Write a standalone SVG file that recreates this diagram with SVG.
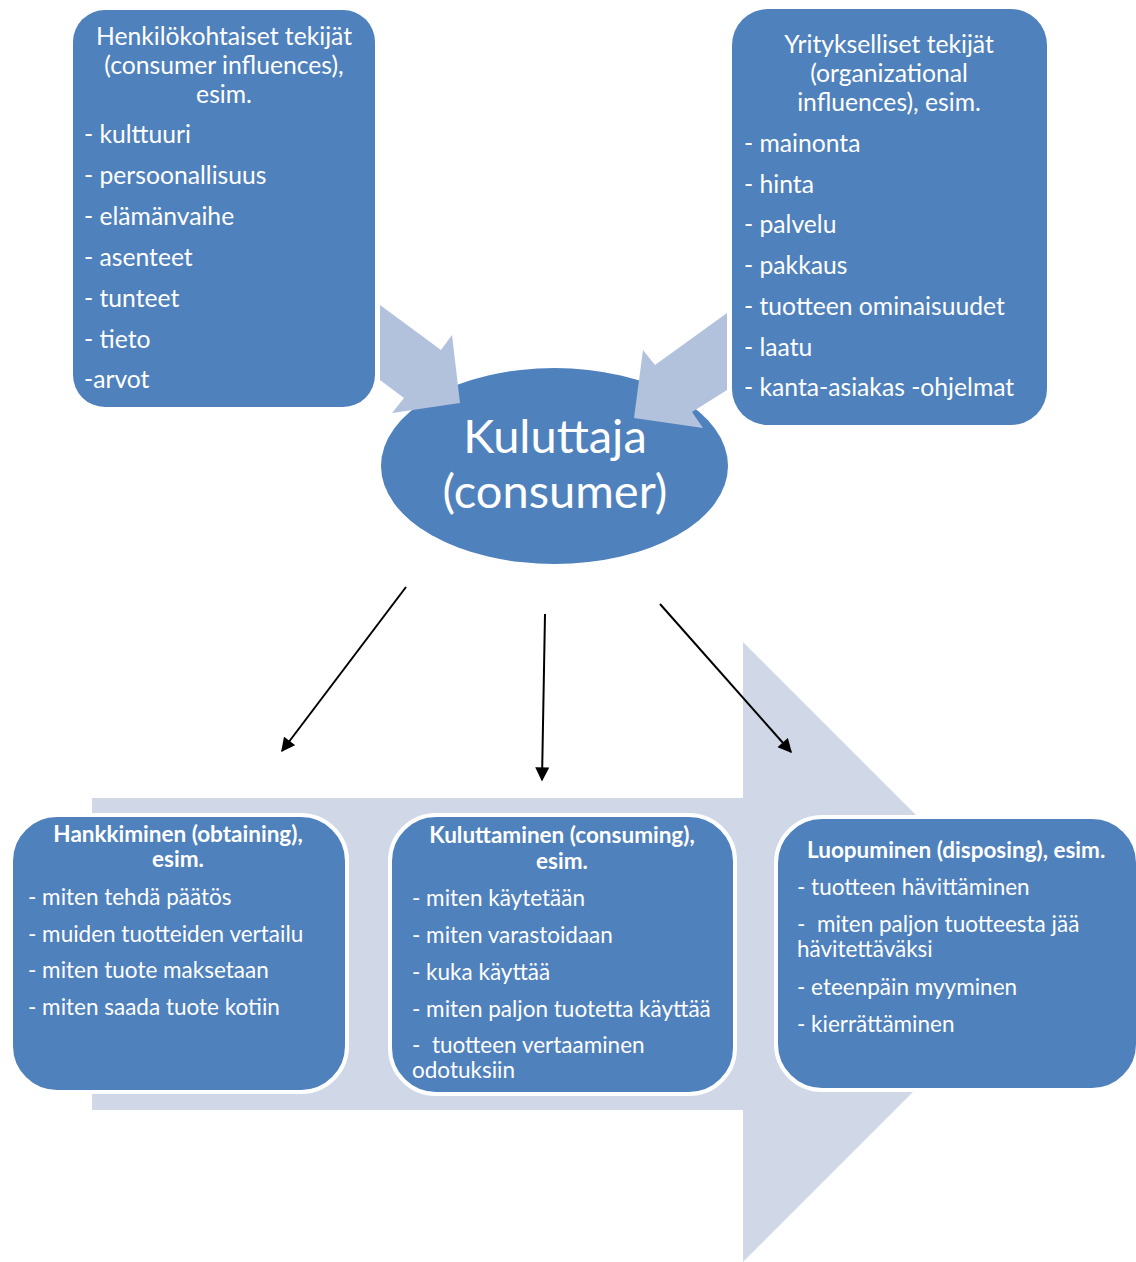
<svg xmlns="http://www.w3.org/2000/svg" width="1136" height="1262" viewBox="0 0 1136 1262">
  <defs>
    <style>
      .box { fill: #4F81BD; }
      .stage { fill: #4F81BD; stroke: #FFFFFF; stroke-width: 4; }
      .flow { fill: #B2C1DC; }
      .band { fill: #D0D8E8; }
      .t { font-family: Lato, "Liberation Sans", sans-serif; fill: #FFFFFF; }
      .top { font-size: 24.7px; }
      .big { font-size: 47px; }
      .low { font-size: 22.5px; }
      .bold { font-weight: bold; }
      .mid { text-anchor: middle; }
      .conn { stroke: #000000; stroke-width: 2; fill: none; marker-end: url(#head); }
    </style>
    <marker id="head" viewBox="0 0 10 10" refX="9" refY="5" markerWidth="7.5" markerHeight="7" markerUnits="strokeWidth" orient="auto">
      <path d="M0,0 L10,5 L0,10 z" fill="#000000"/>
    </marker>
  </defs>

  <rect width="1136" height="1262" fill="#FFFFFF"/>

  <!-- wide process arrow behind the three stages -->
  <polygon class="band" points="92,798 743,798 743,642 1053,952 743,1262 743,1110 92,1110"/>

  <!-- personal influences -->
  <g id="personal">
    <rect class="box" x="73" y="10" width="302" height="397" rx="32"/>
    <text class="t top mid" x="224" y="45">Henkilökohtaiset tekijät</text>
    <text class="t top mid" x="224" y="74">(consumer influences),</text>
    <text class="t top mid" x="224" y="103">esim.</text>
    <text class="t top" x="84" y="143">- kulttuuri</text>
    <text class="t top" x="84" y="184">- persoonallisuus</text>
    <text class="t top" x="84" y="225">- elämänvaihe</text>
    <text class="t top" x="84" y="266">- asenteet</text>
    <text class="t top" x="84" y="307">- tunteet</text>
    <text class="t top" x="84" y="348">- tieto</text>
    <text class="t top" x="84" y="388">-arvot</text>
  </g>

  <!-- organizational influences -->
  <g id="organizational">
    <rect class="box" x="732" y="9" width="315" height="416" rx="36"/>
    <text class="t top mid" x="889" y="53">Yritykselliset tekijät</text>
    <text class="t top mid" x="889" y="82">(organizational</text>
    <text class="t top mid" x="889" y="111">influences), esim.</text>
    <text class="t top" x="744" y="152">- mainonta</text>
    <text class="t top" x="744" y="193">- hinta</text>
    <text class="t top" x="744" y="233">- palvelu</text>
    <text class="t top" x="744" y="274">- pakkaus</text>
    <text class="t top" x="744" y="315">- tuotteen ominaisuudet</text>
    <text class="t top" x="744" y="356">- laatu</text>
    <text class="t top" x="744" y="396">- kanta-asiakas -ohjelmat</text>
  </g>

  <!-- consumer -->
  <g id="consumer">
    <ellipse class="box" cx="554.5" cy="466" rx="173.5" ry="98"/>
    <text class="t big mid" x="555" y="453">Kuluttaja</text>
    <text class="t big mid" x="555" y="508">(consumer)</text>
  </g>

  <!-- influence arrows into the consumer -->
  <g id="influence-arrows">
    <polygon class="flow" points="380,305 441,350 452,335 460,403 392,413 404,398 380,380"/>
    <polygon class="flow" points="727,313 655,365 643,350 634,418 703,428 692,412 727,390"/>
  </g>

  <!-- obtaining -->
  <g id="obtaining">
    <rect class="stage" x="11" y="815" width="336" height="277" rx="46"/>
    <text class="t low bold mid" x="178" y="842">Hankkiminen (obtaining),</text>
    <text class="t low bold mid" x="178" y="867">esim.</text>
    <text class="t low" x="28" y="905">- miten tehdä päätös</text>
    <text class="t low" x="28" y="942">- muiden tuotteiden vertailu</text>
    <text class="t low" x="28" y="978">- miten tuote maksetaan</text>
    <text class="t low" x="28" y="1015">- miten saada tuote kotiin</text>
  </g>

  <!-- consuming -->
  <g id="consuming">
    <rect class="stage" x="390" y="815" width="345" height="279" rx="46"/>
    <text class="t low bold mid" x="562" y="843">Kuluttaminen (consuming),</text>
    <text class="t low bold mid" x="562" y="869">esim.</text>
    <text class="t low" x="412" y="906">- miten käytetään</text>
    <text class="t low" x="412" y="943">- miten varastoidaan</text>
    <text class="t low" x="412" y="980">- kuka käyttää</text>
    <text class="t low" x="412" y="1017">- miten paljon tuotetta käyttää</text>
    <text class="t low" x="412" y="1053" xml:space="preserve">-  tuotteen vertaaminen</text>
    <text class="t low" x="412" y="1078">odotuksiin</text>
  </g>

  <!-- disposing -->
  <g id="disposing">
    <rect class="stage" x="776" y="817" width="362" height="273" rx="46"/>
    <text class="t low bold" x="807" y="858">Luopuminen (disposing), esim.</text>
    <text class="t low" x="797" y="895">- tuotteen hävittäminen</text>
    <text class="t low" x="797" y="932" xml:space="preserve">-  miten paljon tuotteesta jää</text>
    <text class="t low" x="797" y="957">hävitettäväksi</text>
    <text class="t low" x="797" y="995">- eteenpäin myyminen</text>
    <text class="t low" x="797" y="1032">- kierrättäminen</text>
  </g>

  <!-- connectors from the consumer to the stages -->
  <g id="connectors">
    <line class="conn" x1="406" y1="587" x2="282" y2="751"/>
    <line class="conn" x1="545" y1="614" x2="542" y2="780"/>
    <line class="conn" x1="660" y1="604" x2="791" y2="752"/>
  </g>
</svg>
